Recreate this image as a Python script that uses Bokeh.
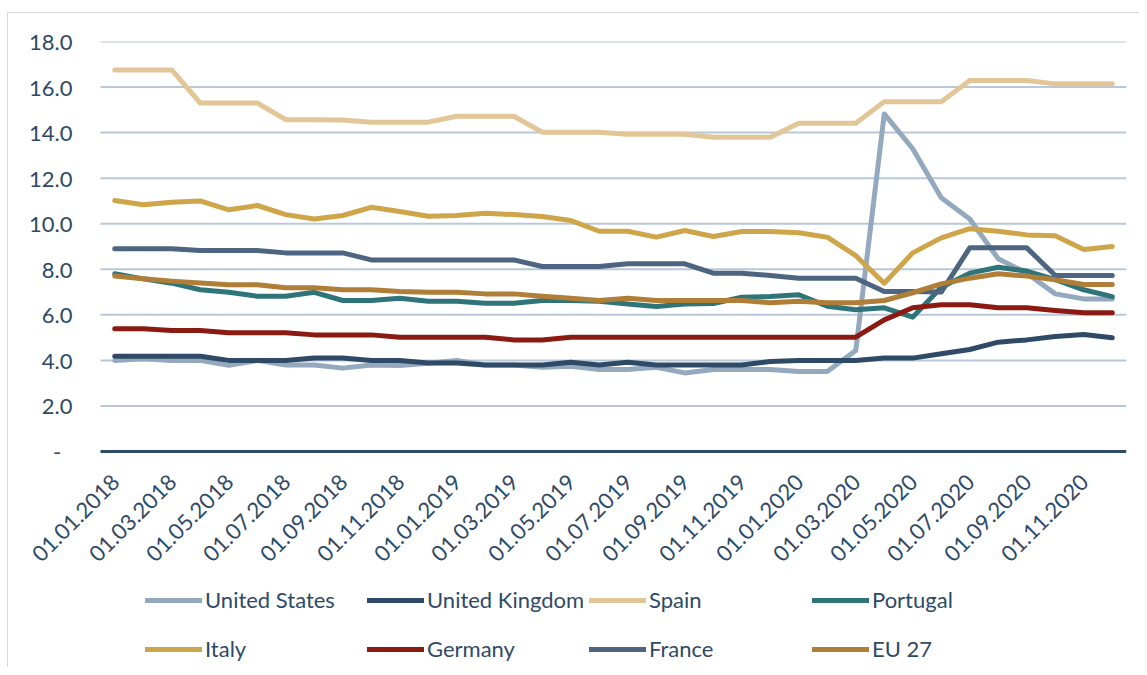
import math
from bokeh.plotting import figure
from bokeh.models import Range1d, FixedTicker, Legend, LegendItem, NumeralTickFormatter
from bokeh.core.properties import value
from bokeh.embed import file_html
from bokeh.resources import INLINE

tick_labels = ["01.01.2018", "01.03.2018", "01.05.2018", "01.07.2018", "01.09.2018", "01.11.2018",
               "01.01.2019", "01.03.2019", "01.05.2019", "01.07.2019", "01.09.2019", "01.11.2019",
               "01.01.2020", "01.03.2020", "01.05.2020", "01.07.2020", "01.09.2020", "01.11.2020"]

united_states = [4.0, 4.07, 4.0, 4.0, 3.78, 4.0, 3.8, 3.8, 3.66, 3.8,
                 3.78, 3.87, 4.0, 3.8, 3.8, 3.7, 3.74, 3.6, 3.6, 3.7,
                 3.45, 3.6, 3.6, 3.6, 3.51, 3.51, 4.43, 14.82, 13.29, 11.14,
                 10.21, 8.46, 7.83, 6.92, 6.7, 6.7]
united_kingdom = [4.18, 4.18, 4.18, 4.18, 4.0, 4.0, 4.0, 4.1, 4.1, 4.0,
                  4.0, 3.89, 3.89, 3.8, 3.8, 3.8, 3.92, 3.8, 3.92, 3.8,
                  3.8, 3.8, 3.8, 3.95, 4.0, 4.0, 4.0, 4.1, 4.1, 4.29,
                  4.48, 4.8, 4.9, 5.05, 5.14, 4.99]
spain = [16.75, 16.75, 16.75, 15.3, 15.3, 15.3, 14.57, 14.57, 14.55, 14.46,
         14.46, 14.46, 14.72, 14.72, 14.72, 14.02, 14.02, 14.02, 13.93, 13.93,
         13.93, 13.8, 13.8, 13.8, 14.41, 14.41, 14.41, 15.36, 15.36, 15.36,
         16.29, 16.29, 16.29, 16.14, 16.14, 16.14]
portugal = [7.8, 7.58, 7.39, 7.1, 6.99, 6.82, 6.82, 6.99, 6.63, 6.63,
            6.73, 6.6, 6.6, 6.51, 6.51, 6.63, 6.63, 6.6, 6.48, 6.37,
            6.48, 6.5, 6.77, 6.8, 6.88, 6.38, 6.22, 6.31, 5.9, 7.21,
            7.83, 8.09, 7.92, 7.55, 7.1, 6.8]
italy = [11.02, 10.83, 10.94, 11.0, 10.61, 10.8, 10.4, 10.21, 10.36, 10.72,
         10.54, 10.33, 10.36, 10.46, 10.4, 10.32, 10.14, 9.67, 9.67, 9.41,
         9.7, 9.44, 9.66, 9.66, 9.6, 9.41, 8.6, 7.39, 8.72, 9.38,
         9.78, 9.67, 9.51, 9.47, 8.87, 9.0]
germany = [5.39, 5.39, 5.31, 5.31, 5.21, 5.21, 5.21, 5.12, 5.12, 5.12,
           5.02, 5.02, 5.02, 5.02, 4.9, 4.9, 5.02, 5.02, 5.02, 5.02,
           5.02, 5.02, 5.02, 5.02, 5.02, 5.02, 5.02, 5.78, 6.31, 6.44,
           6.44, 6.31, 6.31, 6.19, 6.09, 6.09]
france = [8.9, 8.9, 8.9, 8.82, 8.82, 8.82, 8.72, 8.72, 8.72, 8.41,
          8.41, 8.41, 8.41, 8.41, 8.41, 8.12, 8.12, 8.12, 8.24, 8.24,
          8.24, 7.83, 7.83, 7.73, 7.61, 7.61, 7.61, 7.02, 7.02, 7.0,
          8.94, 8.94, 8.94, 7.73, 7.73, 7.73]
eu27 = [7.7, 7.58, 7.48, 7.4, 7.32, 7.32, 7.19, 7.19, 7.1, 7.1,
        7.02, 6.99, 6.99, 6.92, 6.92, 6.82, 6.73, 6.63, 6.73, 6.63,
        6.63, 6.63, 6.63, 6.53, 6.6, 6.53, 6.53, 6.63, 6.97, 7.36,
        7.61, 7.8, 7.7, 7.54, 7.33, 7.33]

series_names = ["United States", "United Kingdom", "Spain", "Portugal",
                "Italy", "Germany", "France", "EU 27"]
series_values = [united_states, united_kingdom, spain, portugal,
                 italy, germany, france, eu27]
series_colors = ["#94A8BE", "#2E4A66", "#E3C698", "#2E7478",
                 "#CFA54A", "#8B1A12", "#4D6580", "#B07E36"]
y_ticks = [0, 2, 4, 6, 8, 10, 12, 14, 16, 18]

TEXT = "#2E4A66"
FONT = "Lato"

n = len(united_states)
x = list(range(n))

W, H = 1139, 667
TOP, RIGHT = 41, 13
FRAME_LEFT = 30          # frame extends left so rotated labels are not clipped
PLOT_LEFT, PLOT_RIGHT = 100, 1126   # visible plotting area (gridline extent)
ZERO_PX = 451            # pixel row of value 0
px_per_unit = (ZERO_PX - TOP) / 18.0
y_min = -(H - ZERO_PX) / px_per_unit
px_per_x = (PLOT_RIGHT - PLOT_LEFT) / n
x_lo = -0.5 - (PLOT_LEFT - FRAME_LEFT) / px_per_x
x_hi = n - 0.5

p = figure(width=W, height=H, output_backend="svg", toolbar_location=None,
           x_range=Range1d(x_lo, x_hi), y_range=Range1d(y_min, 18),
           min_border_left=FRAME_LEFT, min_border_right=RIGHT, min_border_top=TOP,
           min_border_bottom=0)
p.outline_line_color = None
p.background_fill_color = "white"
p.border_fill_alpha = 0
p.styles = {
    "background": "linear-gradient(#D9D9D9, #D9D9D9) 7px 12px / 1px 100% no-repeat, "
                  "linear-gradient(#D9D9D9, #D9D9D9) 7px 12px / 100% 1px no-repeat, white",
}

p.xaxis.visible = False
p.xgrid.grid_line_color = None
p.ygrid.grid_line_color = None

p.yaxis.ticker = FixedTicker(ticks=y_ticks)
p.yaxis.formatter = NumeralTickFormatter(format="0.0")
p.yaxis.major_label_overrides = {0: "-\u00a0\u00a0"}
p.yaxis.axis_line_color = None
p.yaxis.major_tick_line_color = None
p.yaxis.minor_tick_line_color = None
p.yaxis.major_tick_out = 0
p.yaxis.major_tick_in = 0
p.yaxis.major_label_standoff = FRAME_LEFT - 72
p.yaxis.major_label_text_font = FONT
p.yaxis.major_label_text_font_size = "22px"
p.yaxis.major_label_text_color = TEXT

# horizontal gridlines over the plotting area only
grid_y = y_ticks[1:]
p.segment(x0=[-0.5] * len(grid_y), x1=[n - 0.5] * len(grid_y), y0=grid_y, y1=grid_y,
          line_color="#B9C8D8", line_width=2)
# category axis line at zero
p.segment(x0=[-0.5], x1=[n - 0.5], y0=[0], y1=[0], line_color="#2E4A66", line_width=3)

# rotated category labels
tick_x = list(range(0, n, 2))
p.text(x=tick_x, y=[0] * len(tick_x), text=tick_labels, angle=math.pi / 4,
       text_align="right", text_baseline="middle", x_offset=1, y_offset=27,
       text_font=value(FONT), text_font_size="22px", text_color=TEXT)

renderers = []
for name, vals, col in zip(series_names, series_values, series_colors):
    r = p.line(x, vals, line_color=col, line_width=5, line_join="round", line_cap="round")
    renderers.append(r)

col_glyph_px = [145, 367, 589, 812]
for c in range(4):
    items = [LegendItem(label=series_names[c], renderers=[renderers[c]]),
             LegendItem(label=series_names[c + 4], renderers=[renderers[c + 4]])]
    lg = Legend(items=items, location=(col_glyph_px[c] - FRAME_LEFT, 5), orientation="vertical",
                glyph_width=57, glyph_height=24, label_height=24, spacing=22,
                label_standoff=3, padding=0, margin=0,
                border_line_color=None, background_fill_alpha=0,
                label_text_font=FONT, label_text_font_size="22px", label_text_color=TEXT)
    p.add_layout(lg)

open("out.html", "w").write(file_html(p, INLINE))
